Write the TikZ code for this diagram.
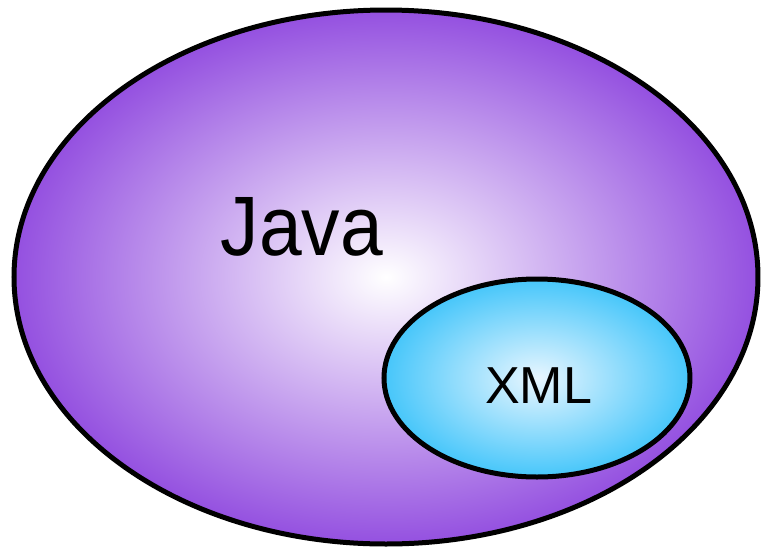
\documentclass[tikz,border=0pt]{standalone}
\usepackage{fontspec}
\setmainfont{Liberation Sans}
\usepackage{tikz}
\definecolor{javaPurple}{RGB}{148,80,224}
\definecolor{javaLight}{RGB}{255,255,255}
\definecolor{xmlCyan}{RGB}{70,198,250}
\definecolor{xmlLight}{RGB}{232,246,255}
\tikzset{outline/.style={line width=0.5mm, draw=black}}

\begin{document}
\begin{tikzpicture}
		%%%%% START %%%%%
		\useasboundingbox (0, 0) rectangle (7.61, -5.48);
		
		\draw[outline, shading=radial, inner color=javaLight, outer color=javaPurple] (3.86, -2.77) ellipse (3.72 and 2.67);
		\node[anchor=base, inner sep=0pt, xscale=0.91, font=\fontsize{24}{24}\selectfont] (java) at (3.02, -2.55) {Java};
		
		\draw[outline, shading=radial, inner color=xmlLight, outer color=xmlCyan] (5.37, -3.78) ellipse (1.53 and 0.99);
		\node[anchor=base, inner sep=0pt, font=\fontsize{14.8}{14.8}\selectfont] (xml) at (5.385, -4.03) {XML};
		
		%%%%% END %%%%%
	\end{tikzpicture}
\end{document}
